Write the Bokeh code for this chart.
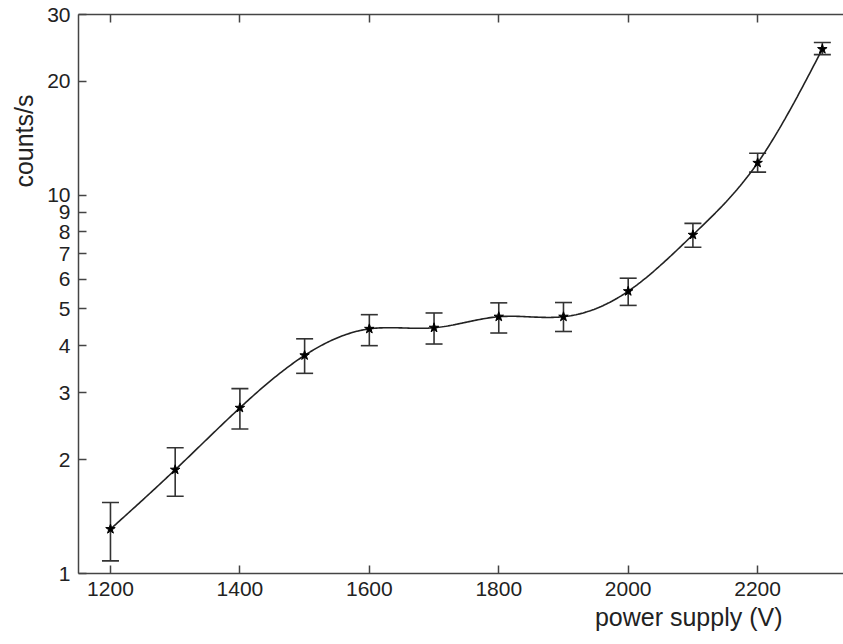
import numpy as np
from bokeh.plotting import figure
from bokeh.models import (ColumnDataSource, Whisker, TeeHead, FixedTicker, PrintfTickFormatter,
                          LinearAxis, Title, Range1d)
from bokeh.embed import file_html
from bokeh.resources import INLINE

# data
voltage = [1200, 1300, 1400, 1500, 1600, 1700, 1800, 1900, 2000, 2100, 2200, 2300]
counts = [1.31, 1.88, 2.74, 3.77, 4.43, 4.46, 4.77, 4.77, 5.57, 7.85, 12.16, 24.3]
err_hi = [1.54, 2.15, 3.08, 4.17, 4.83, 4.88, 5.19, 5.20, 6.03, 8.42, 12.9, 25.3]
err_lo = [1.08, 1.60, 2.41, 3.38, 4.00, 4.04, 4.32, 4.36, 5.11, 7.28, 11.5, 23.5]
x_ticks = [1200, 1400, 1600, 1800, 2000, 2200]
y_ticks = [1, 2, 3, 4, 5, 6, 7, 8, 9, 10, 20, 30]
x_label = "power supply (V)"
y_label = "counts/s"

FONT = "Liberation Sans"
INK = "#222222"


def natural_spline(x, y, n=400):
    x = np.asarray(x, float)
    y = np.asarray(y, float)
    m = len(x)
    h = np.diff(x)
    A = np.zeros((m, m))
    b = np.zeros(m)
    A[0, 0] = 1
    A[-1, -1] = 1
    for i in range(1, m - 1):
        A[i, i - 1] = h[i - 1]
        A[i, i] = 2 * (h[i - 1] + h[i])
        A[i, i + 1] = h[i]
        b[i] = 3 * ((y[i + 1] - y[i]) / h[i] - (y[i] - y[i - 1]) / h[i - 1])
    c = np.linalg.solve(A, b)
    xs = np.linspace(x[0], x[-1], n)
    ys = np.empty_like(xs)
    for k, xv in enumerate(xs):
        i = min(np.searchsorted(x, xv, side="right") - 1, m - 2)
        dx = xv - x[i]
        bi = (y[i + 1] - y[i]) / h[i] - h[i] * (2 * c[i] + c[i + 1]) / 3
        di = (c[i + 1] - c[i]) / (3 * h[i])
        ys[k] = y[i] + bi * dx + c[i] * dx ** 2 + di * dx ** 3
    return xs, ys


cx, cy = natural_spline(voltage, np.log10(counts))
curve = ColumnDataSource(dict(x=cx, y=10 ** cy))
src = ColumnDataSource(dict(x=voltage, y=counts, hi=err_hi, lo=err_lo))

p = figure(width=843, height=644, output_backend="svg", toolbar_location=None,
           y_axis_type="log", x_range=Range1d(1150.6, 2332.7), y_range=Range1d(1, 30),
           min_border_left=77, min_border_right=0, min_border_top=14, min_border_bottom=71)
p.outline_line_color = None
p.grid.visible = False
p.background_fill_color = "white"
p.border_fill_color = "white"

p.line("x", "y", source=curve, line_color=INK, line_width=1.6)
p.add_layout(Whisker(source=src, base="x", upper="hi", lower="lo", line_color="#333333", line_width=1.6,
                     upper_head=TeeHead(size=17, line_color="#333333", line_width=1.6),
                     lower_head=TeeHead(size=17, line_color="#333333", line_width=1.6)))
p.scatter("x", "y", source=src, marker="star", size=10, color="black")

for ax in (p.xaxis[0], p.yaxis[0]):
    ax.axis_line_color = "#444444"
    ax.axis_line_width = 1.5
    ax.major_tick_line_color = "#444444"
    ax.major_tick_line_width = 1.5
    ax.major_tick_in = 8
    ax.major_tick_out = 0
    ax.minor_tick_line_color = None
    ax.major_label_text_font = FONT
    ax.major_label_text_font_size = "21px"
    ax.major_label_text_color = INK
    ax.major_label_standoff = 8

p.xaxis[0].ticker = FixedTicker(ticks=x_ticks)
p.yaxis[0].ticker = FixedTicker(ticks=y_ticks)
p.yaxis[0].formatter = PrintfTickFormatter(format="%d")

top = LinearAxis(ticker=FixedTicker(ticks=x_ticks), major_label_text_font_size="1px",
                 major_label_text_color=None, major_label_standoff=0,
                 axis_line_color="#444444", axis_line_width=1.5,
                 major_tick_line_color="#444444", major_tick_line_width=1.5,
                 major_tick_in=8, major_tick_out=0, minor_tick_line_color=None)
p.add_layout(top, "above")

p.add_layout(Title(text=x_label, align="right", offset=61, standoff=5, text_font=FONT,
                   text_font_size="25px", text_font_style="normal", text_color=INK), "below")
p.add_layout(Title(text=y_label, align="right", offset=80, standoff=14, text_font=FONT,
                   text_font_size="25px", text_font_style="normal", text_color=INK), "left")

open("out.html", "w").write(file_html(p, INLINE))
